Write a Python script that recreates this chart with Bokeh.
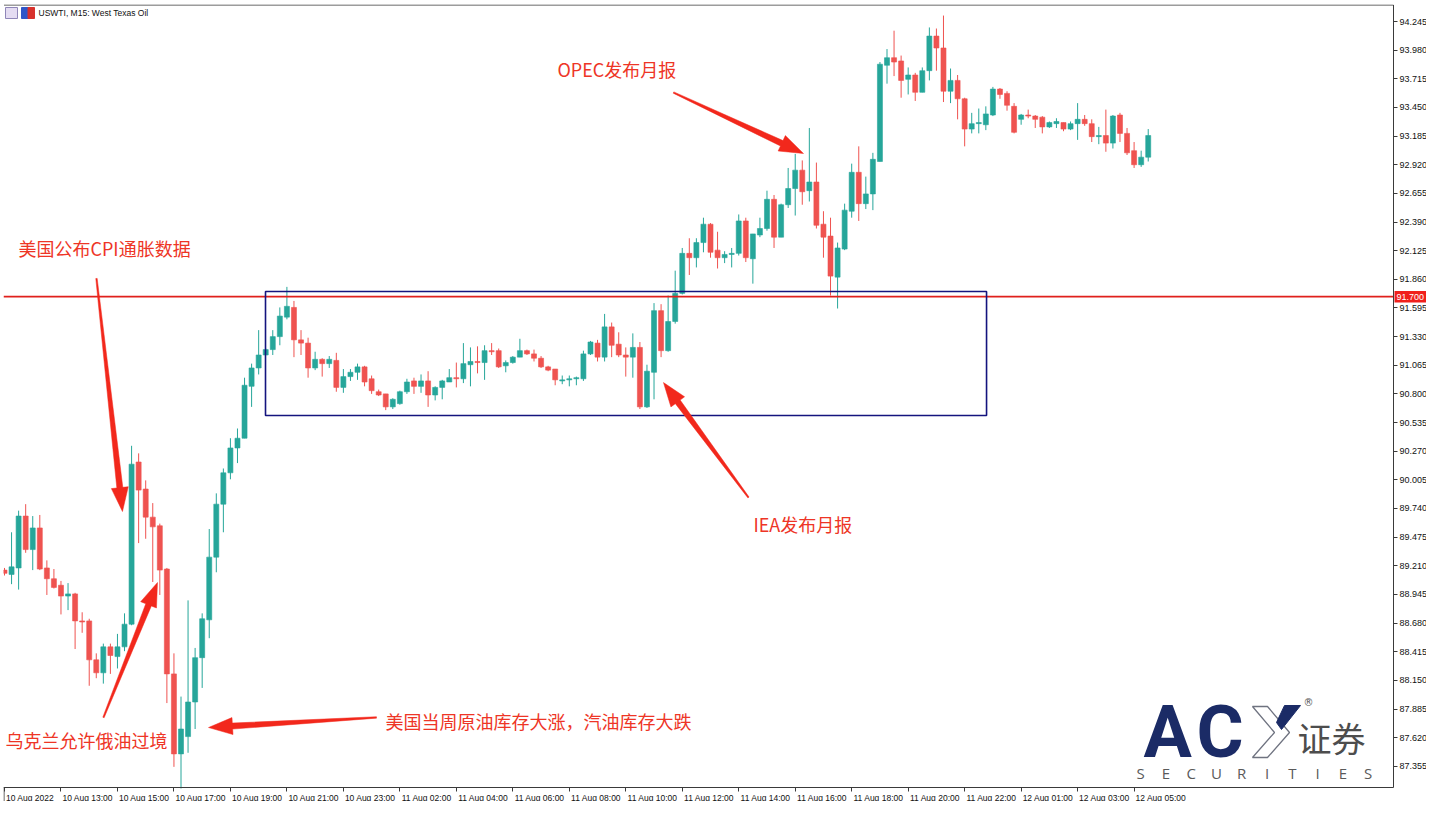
import math
from bokeh.plotting import figure
from bokeh.models import ColumnDataSource, FixedTicker, PrintfTickFormatter, Range1d
from bokeh.core.properties import value
from bokeh.embed import file_html
from bokeh.resources import INLINE

# ---------------- data (USWTI M15) ----------------
open_ = [89.17, 89.13, 89.19, 89.67, 89.36, 89.56, 89.19, 89.09, 89.03, 88.93,
         88.95, 88.70, 88.70, 88.34, 88.22, 88.46, 88.37, 88.46, 88.67, 90.17,
         89.92, 89.66, 89.58, 89.18, 88.21, 87.47, 87.63, 87.95, 88.36, 88.71,
         89.29, 89.78, 90.07, 90.30, 90.39, 90.87, 91.04, 91.16, 91.21, 91.33,
         91.51, 91.60, 91.30, 91.27, 91.04, 91.12, 91.08, 91.11, 90.86, 90.96,
         91.00, 91.05, 90.94, 90.82, 90.80, 90.68, 90.71, 90.82, 90.92, 90.87,
         90.92, 90.79, 90.86, 90.91, 90.95, 90.94, 91.07, 91.10, 91.09, 91.20,
         91.20, 91.06, 91.09, 91.14, 91.20, 91.17, 91.13, 91.05, 91.03, 90.92,
         90.93, 90.94, 90.94, 91.17, 91.27, 91.14, 91.42, 91.26, 91.16, 91.14,
         91.23, 90.68, 91.00, 91.57, 91.20, 91.47, 91.73, 92.10, 92.06, 92.20,
         92.37, 92.13, 92.06, 92.09, 92.10, 92.40, 92.05, 92.27, 92.33, 92.60,
         92.25, 92.55, 92.70, 92.87, 92.68, 92.76, 92.37, 92.26, 91.88, 92.14,
         92.49, 92.85, 92.56, 92.65, 92.95, 93.84, 93.91, 93.88, 93.71, 93.75,
         93.59, 93.79, 94.11, 94.00, 93.60, 93.70, 93.53, 93.25, 93.30, 93.29,
         93.38, 93.62, 93.58, 93.46, 93.34, 93.38, 93.37, 93.36, 93.27, 93.30,
         93.31, 93.25, 93.30, 93.34, 93.30, 93.18, 93.19, 93.12, 93.38, 93.21,
         93.05, 92.92, 92.99]
high = [89.19, 89.52, 89.72, 89.78, 89.67, 89.68, 89.26, 89.18, 89.07, 89.05,
        88.96, 88.78, 88.72, 88.40, 88.49, 88.49, 88.58, 88.77, 90.32, 90.25,
        90.00, 89.79, 89.60, 89.19, 88.40, 88.00, 88.89, 88.45, 88.77, 89.55,
        89.88, 90.11, 90.39, 90.48, 90.95, 91.08, 91.39, 91.22, 91.39, 91.60,
        91.79, 91.66, 91.39, 91.32, 91.19, 91.13, 91.15, 91.18, 91.03, 91.03,
        91.08, 91.06, 90.97, 90.84, 90.80, 90.76, 90.83, 90.94, 90.95, 90.98,
        91.01, 90.87, 90.93, 91.03, 91.09, 91.27, 91.23, 91.24, 91.25, 91.27,
        91.22, 91.11, 91.15, 91.31, 91.21, 91.21, 91.15, 91.06, 91.03, 90.97,
        90.97, 90.96, 91.20, 91.29, 91.30, 91.54, 91.46, 91.37, 91.23, 91.36,
        91.28, 91.07, 91.64, 91.63, 91.71, 91.94, 92.15, 92.24, 92.24, 92.43,
        92.38, 92.30, 92.12, 92.15, 92.46, 92.43, 92.28, 92.43, 92.68, 92.64,
        92.56, 92.89, 93.02, 92.96, 93.26, 92.94, 92.49, 92.43, 92.20, 92.56,
        92.93, 93.09, 92.81, 93.03, 93.87, 93.99, 94.16, 93.93, 93.82, 93.77,
        93.82, 94.19, 94.18, 94.30, 93.81, 93.75, 93.54, 93.40, 93.44, 93.46,
        93.64, 93.63, 93.60, 93.49, 93.39, 93.43, 93.38, 93.37, 93.32, 93.35,
        93.31, 93.32, 93.49, 93.38, 93.34, 93.27, 93.43, 93.38, 93.40, 93.26,
        93.13, 93.05, 93.25]
low = [89.12, 89.04, 88.99, 89.33, 89.17, 89.17, 88.94, 89.00, 88.76, 88.80,
       88.44, 88.59, 88.10, 88.17, 88.12, 88.21, 88.26, 88.42, 88.66, 89.42,
       89.46, 89.06, 88.94, 87.94, 87.35, 87.15, 87.48, 87.70, 88.08, 88.54,
       89.15, 89.52, 90.01, 90.16, 90.39, 90.68, 90.98, 91.16, 91.16, 91.25,
       91.49, 91.14, 91.16, 90.95, 91.02, 90.96, 91.04, 90.82, 90.81, 90.92,
       90.93, 90.87, 90.80, 90.78, 90.65, 90.66, 90.70, 90.80, 90.80, 90.81,
       90.68, 90.74, 90.75, 90.91, 90.86, 90.90, 90.87, 90.99, 90.93, 91.16,
       91.04, 91.00, 91.08, 91.14, 91.16, 91.10, 91.04, 91.01, 90.88, 90.89,
       90.87, 90.88, 90.92, 91.16, 91.10, 91.10, 91.14, 91.14, 90.96, 90.95,
       90.66, 90.67, 90.75, 91.14, 91.19, 91.45, 91.72, 91.90, 91.97, 92.11,
       92.06, 91.96, 92.01, 91.97, 92.08, 92.02, 91.82, 92.25, 92.31, 92.15,
       92.25, 92.52, 92.45, 92.55, 92.58, 92.33, 92.06, 91.71, 91.59, 92.13,
       92.43, 92.40, 92.51, 92.50, 92.95, 93.67, 93.74, 93.54, 93.57, 93.51,
       93.59, 93.70, 93.79, 93.50, 93.49, 93.34, 93.09, 93.21, 93.21, 93.24,
       93.37, 93.53, 93.42, 93.21, 93.29, 93.35, 93.26, 93.21, 93.26, 93.26,
       93.23, 93.24, 93.15, 93.28, 93.13, 93.11, 93.04, 93.07, 93.13, 93.01,
       92.89, 92.90, 92.95]
close = [89.14, 89.20, 89.67, 89.36, 89.56, 89.18, 89.09, 89.01, 88.93, 88.95,
         88.70, 88.69, 88.34, 88.22, 88.46, 88.38, 88.46, 88.67, 90.15, 89.91,
         89.66, 89.57, 89.17, 88.21, 87.47, 87.70, 87.95, 88.36, 88.72, 89.29,
         89.78, 90.07, 90.30, 90.39, 90.88, 91.04, 91.16, 91.21, 91.33, 91.52,
         91.61, 91.30, 91.27, 91.04, 91.12, 91.08, 91.12, 90.86, 90.96, 91.00,
         91.05, 90.91, 90.83, 90.79, 90.68, 90.75, 90.82, 90.91, 90.87, 90.92,
         90.79, 90.86, 90.92, 90.95, 90.94, 91.08, 91.10, 91.09, 91.20, 91.19,
         91.05, 91.09, 91.14, 91.20, 91.17, 91.13, 91.05, 91.02, 90.93, 90.93,
         90.94, 90.95, 91.17, 91.28, 91.14, 91.42, 91.25, 91.16, 91.14, 91.23,
         90.68, 91.01, 91.57, 91.20, 91.47, 91.73, 92.10, 92.06, 92.20, 92.37,
         92.11, 92.06, 92.09, 92.10, 92.40, 92.06, 92.28, 92.33, 92.60, 92.25,
         92.55, 92.70, 92.87, 92.67, 92.76, 92.36, 92.25, 91.89, 92.15, 92.50,
         92.85, 92.56, 92.65, 92.97, 93.85, 93.91, 93.87, 93.70, 93.75, 93.59,
         93.79, 94.11, 94.00, 93.60, 93.70, 93.53, 93.25, 93.30, 93.31, 93.39,
         93.62, 93.57, 93.47, 93.22, 93.38, 93.37, 93.34, 93.27, 93.31, 93.32,
         93.25, 93.30, 93.34, 93.30, 93.18, 93.19, 93.12, 93.37, 93.21, 93.03,
         92.92, 92.99, 93.19]

x_tick_bars = [0, 8, 16, 24, 32, 40, 48, 56, 64, 72, 80, 88, 96, 104, 112, 120, 128, 136, 144, 152, 160]
x_tick_labels = ["10 Aug 2022", "10 Aug 13:00", "10 Aug 15:00", "10 Aug 17:00", "10 Aug 19:00",
                 "10 Aug 21:00", "10 Aug 23:00", "11 Aug 02:00", "11 Aug 04:00", "11 Aug 06:00",
                 "11 Aug 08:00", "11 Aug 10:00", "11 Aug 12:00", "11 Aug 14:00", "11 Aug 16:00",
                 "11 Aug 18:00", "11 Aug 20:00", "11 Aug 22:00", "12 Aug 01:00", "12 Aug 03:00",
                 "12 Aug 05:00"]
y_ticks = [87.355, 87.620, 87.885, 88.150, 88.415, 88.680, 88.945, 89.210, 89.475, 89.740,
           90.005, 90.270, 90.535, 90.800, 91.065, 91.330, 91.595, 91.860, 92.125, 92.390,
           92.655, 92.920, 93.185, 93.450, 93.715, 93.980, 94.245]

level_price = 91.700
level_label = "91.700"
box_left, box_right, box_top, box_bottom = 36.97, 139.1, 91.747, 90.600

ann_text = ["美国公布CPI通胀数据", "乌克兰允许俄油过境", "美国当周原油库存大涨，汽油库存大跌",
            "OPEC发布月报", "IEA发布月报"]
ann_x = [1.98, 0.14, 53.97, 78.33, 106.09]
ann_y = [92.154, 87.594, 87.770, 93.801, 89.601]
arrow_x0 = [13.03, 14.02, 52.69, 94.76, 105.38]
arrow_y0 = [91.868, 87.807, 87.807, 93.588, 89.842]
arrow_x1 = [16.71, 21.67, 28.90, 113.17, 93.34]
arrow_y1 = [89.712, 89.055, 87.714, 93.024, 90.905]

# ---------------- layout ----------------
PXB = 7.06       # pixels per bar
PXP = 108.1      # pixels per price unit

def rx(px):   # horizontal pixel position of the picture -> bar units
    return (px - 4) / PXB

def ry(py):   # vertical pixel position of the picture -> price units
    return 94.245 - (py - 21) / PXP

LEFT, TOP = 3, 4
FW, FH = 1423, 797
X0 = rx(LEFT)
X1 = X0 + FW / PXB
Y1 = ry(TOP)
Y0 = Y1 - FH / PXP
AXIS_X = rx(1393)     # price scale position
AXIS_Y = ry(787)      # time scale position

UP, DOWN = "#26a69a", "#ef5350"
RED_TXT = "#ee3526"
RED_ARW = "#f2281c"
FRAME = "#3a3a3a"

p = figure(frame_width=FW, frame_height=FH, x_range=Range1d(X0, X1), y_range=Range1d(Y0, Y1),
           output_backend="svg", toolbar_location=None, y_axis_location="right",
           min_border=0, min_border_left=LEFT, min_border_top=TOP,
           background_fill_color="white", border_fill_color="white")
p.xgrid.visible = False
p.ygrid.visible = False
p.outline_line_color = None

# candles
n = len(open_)
bars = list(range(n))
colors = [UP if c >= o else DOWN for o, c in zip(open_, close)]
src = ColumnDataSource(dict(x=bars, o=open_, h=high, l=low, c=close,
                            top=[max(o, c) for o, c in zip(open_, close)],
                            bottom=[min(o, c) for o, c in zip(open_, close)],
                            color=colors))
p.segment(x0="x", y0="l", x1="x", y1="h", source=src, line_color="color", line_width=1)
p.vbar(x="x", width=0.71, top="top", bottom="bottom", source=src,
       fill_color="color", line_color="color", line_width=0.6)

# level line and range box
p.segment(x0=[X0], y0=[level_price], x1=[AXIS_X], y1=[level_price], line_color="#e0201c", line_width=1.6)
p.quad(left=[box_left], right=[box_right], top=[box_top], bottom=[box_bottom],
       fill_alpha=0, line_color="#14147e", line_width=1.6)

# chart frame (left/top edges, price scale line, time scale line)
p.segment(x0=[rx(3.5), rx(3.5), AXIS_X, X0], y0=[Y0, ry(4.5), ry(4.5), AXIS_Y],
          x1=[rx(3.5), AXIS_X, AXIS_X, AXIS_X], y1=[AXIS_Y, ry(4.5), AXIS_Y, AXIS_Y],
          line_color=FRAME, line_width=1)

# arrows (tapered)
sx = FW / (X1 - X0)
sy = FH / (Y1 - Y0)
def arrow_poly(x0, y0, x1, y1, tail_w=1.4, shaft_w=6.0, head_len=24.0, head_w=17.0):
    ax, ay, bx, by = x0 * sx, y0 * sy, x1 * sx, y1 * sy
    dx, dy = bx - ax, by - ay
    L = math.hypot(dx, dy)
    ux, uy = dx / L, dy / L
    nx, ny = -uy, ux
    hx, hy = bx - ux * head_len, by - uy * head_len
    pts = [(ax + nx * tail_w / 2, ay + ny * tail_w / 2),
           (hx + nx * shaft_w / 2, hy + ny * shaft_w / 2),
           (hx + nx * head_w / 2, hy + ny * head_w / 2),
           (bx, by),
           (hx - nx * head_w / 2, hy - ny * head_w / 2),
           (hx - nx * shaft_w / 2, hy - ny * shaft_w / 2),
           (ax - nx * tail_w / 2, ay - ny * tail_w / 2)]
    return [q[0] / sx for q in pts], [q[1] / sy for q in pts]

axs, ays = [], []
for a, b, c, d in zip(arrow_x0, arrow_y0, arrow_x1, arrow_y1):
    xs_, ys_ = arrow_poly(a, b, c, d)
    axs.append(xs_)
    ays.append(ys_)
p.patches(axs, ays, fill_color=RED_ARW, line_color=RED_ARW, line_width=0.5)

p.text(x=ann_x, y=ann_y, text=ann_text, text_font=value("Noto Sans CJK SC"),
       text_font_size="18px", text_color=RED_TXT, text_align="left", text_baseline="middle")

# title + icons
p.quad(left=[rx(5)], right=[rx(17)], top=[ry(7)], bottom=[ry(18)],
       fill_color="#e4dcf2", line_color="#8f86b8", line_width=1)
p.quad(left=[rx(21)], right=[rx(27.5)], top=[ry(7)], bottom=[ry(18)],
       fill_color="#2f56c8", line_color="#2f56c8", line_width=1)
p.quad(left=[rx(27.5)], right=[rx(34)], top=[ry(7)], bottom=[ry(18)],
       fill_color="#d8312c", line_color="#d8312c", line_width=1)
p.text(x=[rx(38)], y=[ry(12)], text=["USWTI, M15: West Texas Oil"],
       text_font=value("Liberation Sans"), text_font_size="8.5px", text_color="#111111",
       text_align="left", text_baseline="middle")

# logo
NAVY = "#1b2b66"
p.text(x=[rx(1143), rx(1196)], y=[ry(732), ry(732)], text=["A", "C"],
       text_font=value("Roboto"), text_font_style="bold", text_font_size="72px",
       text_color=NAVY, text_align="left", text_baseline="middle")
chev = [(1252, 706), (1267, 706), (1289, 732), (1267, 757), (1252, 757), (1274, 732)]
p.patch([rx(a) for a, b in chev], [ry(b) for a, b in chev], fill_alpha=0,
        line_color="#6f7380", line_width=1.3)
slash = [(1284, 705), (1300, 705), (1281, 729), (1276, 722)]
p.patch([rx(a) for a, b in slash], [ry(b) for a, b in slash], fill_color=NAVY, line_color=NAVY)
p.text(x=[rx(1303)], y=[ry(702)], text=["®"], text_font=value("DejaVu Sans"),
       text_font_size="10px", text_color="#555555", text_align="left", text_baseline="middle")
p.text(x=[rx(1297)], y=[ry(737)], text=["证券"], text_font=value("Noto Sans CJK SC"),
       text_font_size="34px", text_color="#4d4d4d", text_align="left", text_baseline="middle")
letters = list("SECURITIES")
p.text(x=[rx(1140 + 25.3 * k) for k in range(len(letters))], y=[ry(772)] * len(letters),
       text=letters, text_font=value("Open Sans"), text_font_size="15px", text_color="#5a5a5a",
       text_align="center", text_baseline="middle")

# level tag on the price scale
p.quad(left=[rx(1394)], right=[X1], top=[ry(290.5)], bottom=[ry(302)],
       fill_color="#f0201c", line_color=None)
p.text(x=[rx(1396)], y=[level_price], text=[level_label], text_font=value("Liberation Sans"),
       text_font_size="9px", text_color="white", text_align="left", text_baseline="middle")

# axes (drawn at fixed positions inside the canvas)
ya = p.yaxis[0]
ya.fixed_location = AXIS_X
ya.ticker = FixedTicker(ticks=y_ticks)
ya.formatter = PrintfTickFormatter(format="%.3f")
ya.major_tick_out = 4
ya.major_tick_in = 0
ya.minor_tick_line_color = None
ya.axis_line_color = None
ya.major_tick_line_color = FRAME
ya.major_label_text_font = "Liberation Sans"
ya.major_label_text_font_size = "9px"
ya.major_label_text_color = "#111111"
ya.major_label_standoff = 2

cw = {" ": 0.278, ":": 0.278, "A": 0.667, "u": 0.556, "g": 0.556}
def text_w(s, size=8.5):
    return sum(cw.get(ch, 0.556) for ch in s) * size

centers = [round(b + (text_w(t) / 2 + 1.5) / PXB, 4) for b, t in zip(x_tick_bars, x_tick_labels)]
xa = p.xaxis[0]
xa.fixed_location = AXIS_Y
xa.ticker = FixedTicker(ticks=centers, minor_ticks=x_tick_bars)
xa.major_label_overrides = {c: t for c, t in zip(centers, x_tick_labels)}
xa.major_tick_line_color = None
xa.major_tick_out = 4
xa.major_tick_in = 0
xa.minor_tick_out = 4
xa.minor_tick_in = 0
xa.minor_tick_line_color = FRAME
xa.axis_line_color = None
xa.major_label_text_font = "Liberation Sans"
xa.major_label_text_font_size = "8.5px"
xa.major_label_text_color = "#111111"
xa.major_label_standoff = 1

open("out.html", "w").write(file_html(p, INLINE))
